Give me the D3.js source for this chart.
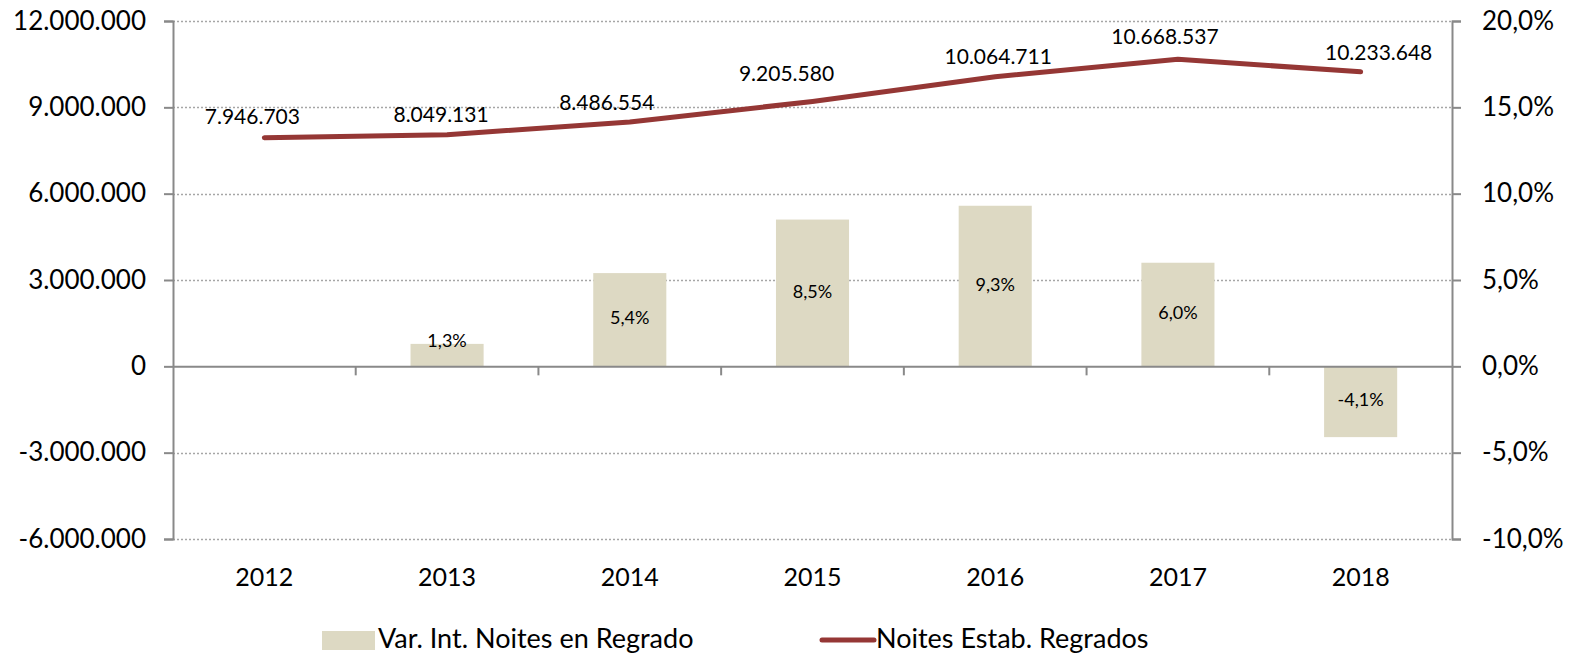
<!DOCTYPE html>
<html>
<head>
<meta charset="utf-8">
<script src="https://cdn.jsdelivr.net/npm/d3@7"></script>
<style>
  html, body { margin: 0; padding: 0; background: #fff; }
  text { font-family: Lato, "Open Sans", sans-serif; fill: #000; }
</style>
</head>
<body>
<div id="chart"></div>
<script>
// data
const years = ['2012', '2013', '2014', '2015', '2016', '2017', '2018'];
const nights = [7946703, 8049131, 8486554, 9205580, 10064711, 10668537, 10233648];
const variation = [null, 1.3, 5.4, 8.5, 9.3, 6.0, -4.1];
const leftTicks = [-6000000, -3000000, 0, 3000000, 6000000, 9000000, 12000000];
const rightTicks = [-10, -5, 0, 5, 10, 15, 20];
const seriesNames = ['Var. Int. Noites en Regrado', 'Noites Estab. Regrados'];

// hand nudges for the line labels (Excel had them moved a bit)
const labelDx = [-12, -6, -23, -26, 3, -13, 18];
const labelDy = [-19, -18, -17, -26, -18, -21, -17];

const chartWidth = 1572;
const chartHeight = 657;
const margin = { top: 21, right: 120, bottom: 118, left: 173 };
const plotRight = 1452;
const plotBottom = chartHeight - margin.bottom;

const barColor = '#ddd9c3';
const lineColor = '#953735';
const axisColor = '#898989';

const loc = d3.formatLocale({ decimal: ',', thousands: '.', grouping: [3], currency: ['', ''], minus: '-' });
const fmtInt = loc.format(',.0f');
const fmtPct = (v) => loc.format('.1f')(v) + '%';

const svg = d3.select('#chart')
  .append('svg')
  .attr('width', chartWidth)
  .attr('height', chartHeight);

const x = d3.scaleBand().domain(years).range([margin.left, plotRight]).padding(0);
const yLeft = d3.scaleLinear().domain([-6000000, 12000000]).range([plotBottom, margin.top]);
const yRight = d3.scaleLinear().domain([-10, 20]).range([plotBottom, margin.top]);

// dotted gridlines
svg.append('g')
  .selectAll('line')
  .data(leftTicks.filter((d) => d !== 0))
  .enter()
  .append('line')
  .attr('x1', margin.left)
  .attr('x2', plotRight)
  .attr('y1', (d) => Math.round(yLeft(d)) + 0.5)
  .attr('y2', (d) => Math.round(yLeft(d)) + 0.5)
  .attr('stroke', '#a6a6a6')
  .attr('stroke-width', 1.3)
  .attr('stroke-dasharray', '2,2');

// bars
const barW = x.bandwidth() * 0.4;
svg.append('g')
  .selectAll('rect')
  .data(years.map((y, i) => [y, variation[i]]).filter((d) => d[1] !== null))
  .enter()
  .append('rect')
  .attr('x', (d) => x(d[0]) + (x.bandwidth() - barW) / 2)
  .attr('y', (d) => yRight(Math.max(0, d[1])))
  .attr('width', barW)
  .attr('height', (d) => Math.abs(yRight(d[1]) - yRight(0)))
  .attr('fill', barColor);

// left axis
const leftAxis = d3.axisLeft(yLeft).tickValues(leftTicks).tickFormat(fmtInt).tickSize(9).tickPadding(18);
const gl = svg.append('g').attr('transform', `translate(${margin.left},0)`).call(leftAxis);

// right axis
const rightAxis = d3.axisRight(yRight).tickValues(rightTicks).tickFormat(fmtPct).tickSize(9).tickPadding(21);
const gr = svg.append('g').attr('transform', `translate(${plotRight},0)`).call(rightAxis);

[gl, gr].forEach((g) => {
  g.select('.domain').attr('stroke', axisColor).attr('stroke-width', 2);
  g.selectAll('.tick line').attr('stroke', axisColor).attr('stroke-width', 2);
  g.selectAll('.tick text').attr('font-size', 26).attr('font-family', 'Lato, sans-serif');
});

// category axis sitting on zero
const xAxis = d3.axisBottom(x).tickSize(0).tickFormat('');
const gx = svg.append('g').attr('transform', `translate(0,${yLeft(0)})`).call(xAxis);
gx.select('.domain').attr('stroke', axisColor).attr('stroke-width', 2);
gx.selectAll('.sep')
  .data(years.slice(1))
  .enter()
  .append('line')
  .attr('x1', (d) => x(d))
  .attr('x2', (d) => x(d))
  .attr('y1', 0)
  .attr('y2', 9)
  .attr('stroke', axisColor)
  .attr('stroke-width', 2);

// year labels below plot
svg.append('g')
  .selectAll('text')
  .data(years)
  .enter()
  .append('text')
  .attr('x', (d) => x(d) + x.bandwidth() / 2)
  .attr('y', plotBottom + 41)
  .attr('dominant-baseline', 'middle')
  .attr('text-anchor', 'middle')
  .attr('font-size', 25)
  .text((d) => d);

// bar labels
svg.append('g')
  .selectAll('text')
  .data(years.map((y, i) => [y, variation[i]]).filter((d) => d[1] !== null))
  .enter()
  .append('text')
  .attr('x', (d) => x(d[0]) + x.bandwidth() / 2)
  .attr('y', (d) => {
    const mid = (yRight(d[1]) + yRight(0)) / 2;
    return d[1] > 0 ? Math.min(mid, yRight(0) - 24) : mid;
  })
  .attr('dominant-baseline', 'middle')
  .attr('text-anchor', 'middle')
  .attr('font-size', 18)
  .text((d) => fmtPct(d[1]));

// line
const line = d3.line()
  .x((d, i) => x(years[i]) + x.bandwidth() / 2)
  .y((d) => yLeft(d));

svg.append('path')
  .datum(nights)
  .attr('d', line)
  .attr('fill', 'none')
  .attr('stroke', lineColor)
  .attr('stroke-width', 5)
  .attr('stroke-linecap', 'round')
  .attr('stroke-linejoin', 'round');

// line labels
svg.append('g')
  .selectAll('text')
  .data(nights)
  .enter()
  .append('text')
  .attr('x', (d, i) => x(years[i]) + x.bandwidth() / 2 + labelDx[i])
  .attr('y', (d, i) => yLeft(d) + labelDy[i])
  .attr('dominant-baseline', 'middle')
  .attr('text-anchor', 'middle')
  .attr('font-size', 21)
  .text((d) => fmtInt(d));

// legend
const legend = svg.append('g');
legend.append('rect')
  .attr('x', 322).attr('y', 631).attr('width', 53).attr('height', 19)
  .attr('fill', barColor);
legend.append('text')
  .attr('x', 378).attr('y', 641)
  .attr('dominant-baseline', 'middle')
  .attr('font-size', 27)
  .text(seriesNames[0]);
legend.append('line')
  .attr('x1', 822).attr('x2', 874).attr('y1', 640).attr('y2', 640)
  .attr('stroke', lineColor).attr('stroke-width', 5).attr('stroke-linecap', 'round');
legend.append('text')
  .attr('x', 876).attr('y', 641)
  .attr('dominant-baseline', 'middle')
  .attr('font-size', 27)
  .text(seriesNames[1]);
</script>
</body>
</html>
